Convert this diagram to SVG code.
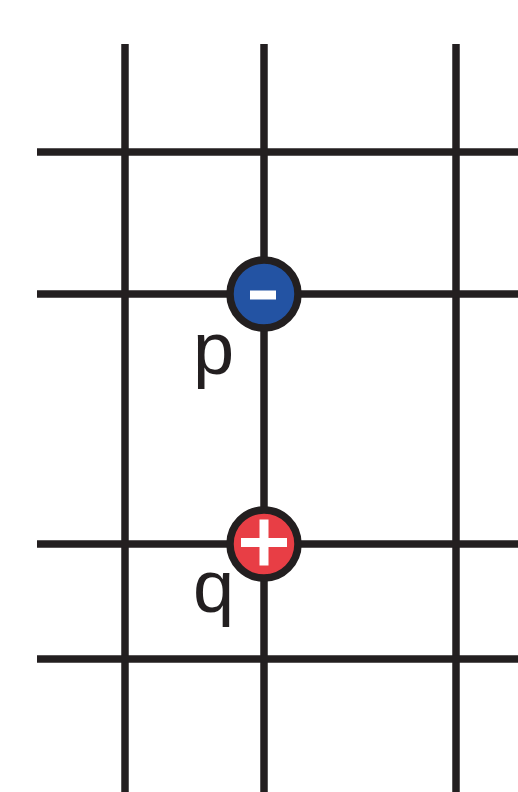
<svg xmlns="http://www.w3.org/2000/svg" width="518" height="792" viewBox="0 0 518 792">
<style>
.g{stroke:#231f20;stroke-width:7.5;fill:none}
.c{stroke:#231f20;stroke-width:7.5}
.lbl{font-family:"Liberation Sans",Arial,sans-serif;font-size:74px;fill:#231f20}
.s{fill:#ffffff}
</style>
<g id="connectors">
<line class="g" x1="125" y1="44" x2="125" y2="792"/>
<line class="g" x1="264" y1="44" x2="264" y2="792"/>
<line class="g" x1="456" y1="44" x2="456" y2="792"/>
<line class="g" x1="37" y1="152" x2="518" y2="152"/>
<line class="g" x1="37" y1="294" x2="518" y2="294"/>
<line class="g" x1="37" y1="544" x2="518" y2="544"/>
<line class="g" x1="37" y1="659" x2="518" y2="659"/>
</g>
<g id="p">
<circle class="c" cx="264" cy="294" r="34" fill="#2353a3"/>
<rect class="s" x="250" y="290.5" width="26" height="9"/>
<text class="lbl" x="193" y="373.5">p</text>
</g>
<g id="q">
<circle class="c" cx="264" cy="544" r="34" fill="#e83e45"/>
<rect class="s" x="241" y="538" width="46" height="9"/>
<rect class="s" x="259.5" y="519.5" width="9" height="46"/>
<text class="lbl" x="193" y="611.5">q</text>
</g>
</svg>
